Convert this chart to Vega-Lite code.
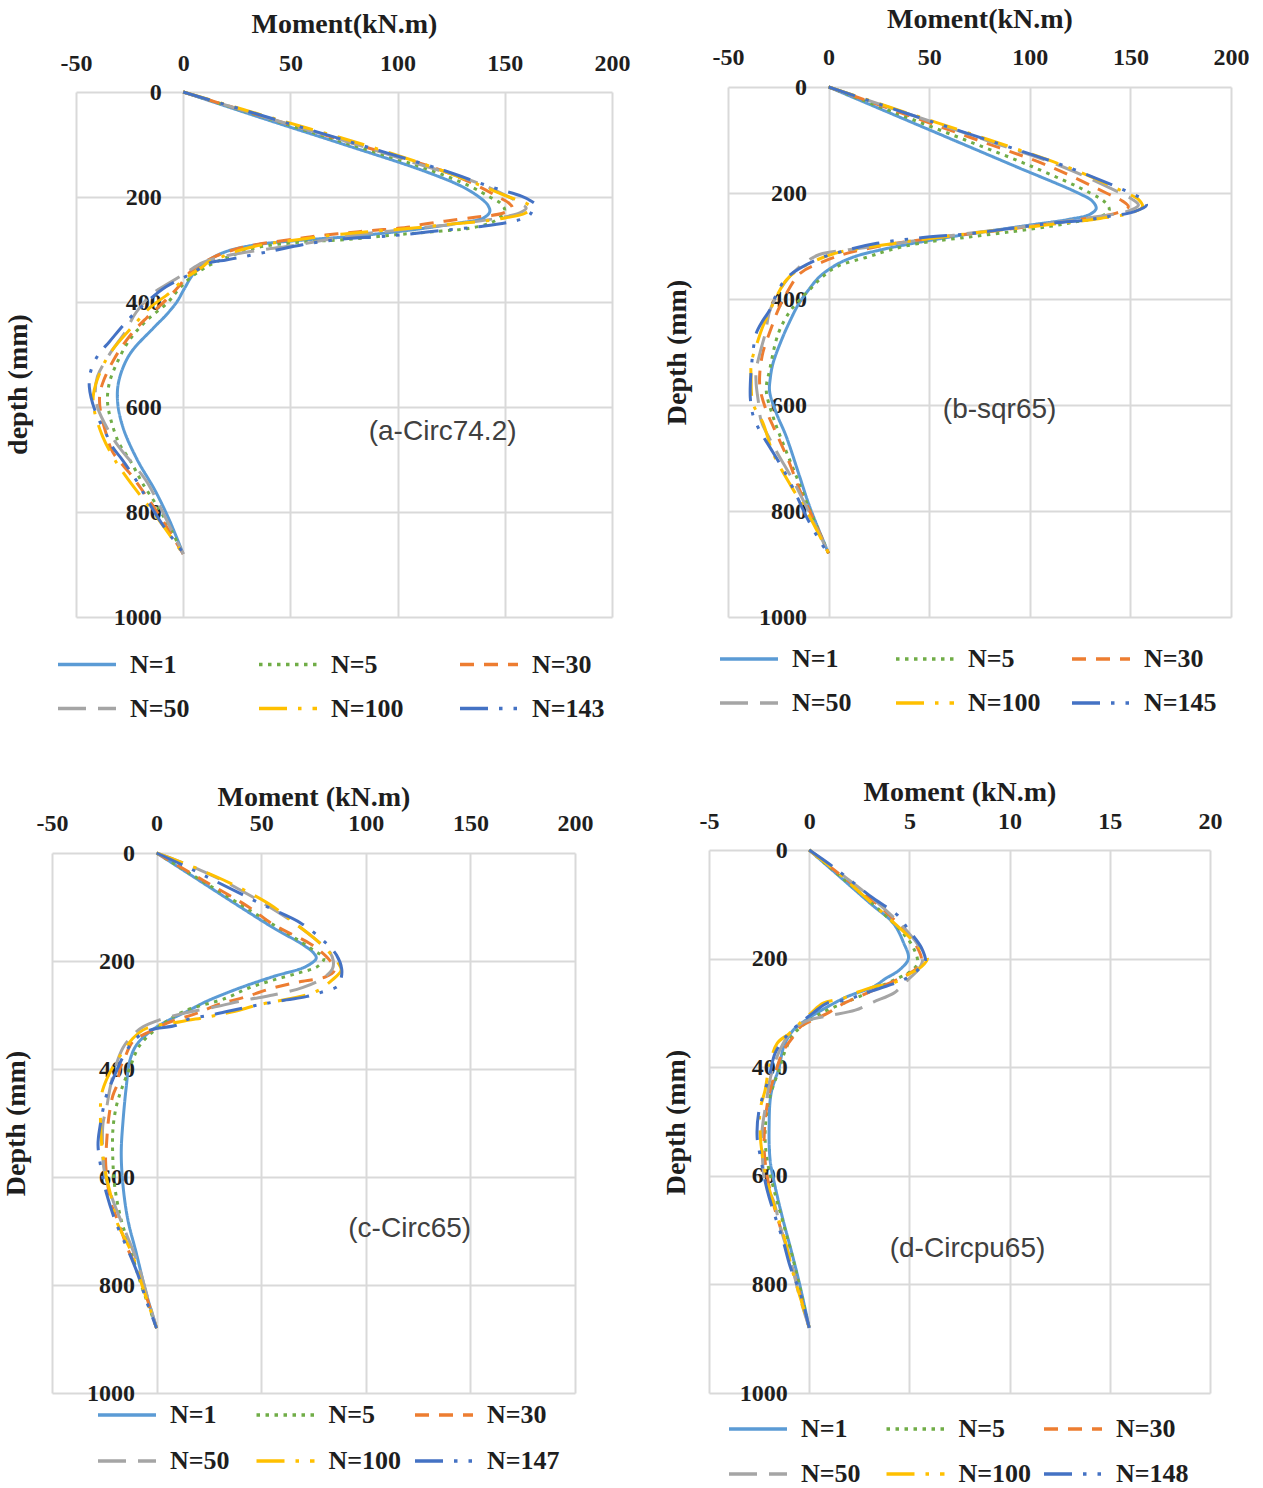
{
"$schema": "https://vega.github.io/schema/vega-lite/v6.json",
"background": "white",
"padding": {"left": 2, "top": 5, "right": 0, "bottom": 0},
"config": {
  "view": {"stroke": null},
  "axis": {"grid": true, "gridColor": "#d9d9d9", "gridWidth": 2, "domain": false, "ticks": false, "tickSize": 0,
    "labelFont": "Liberation Serif", "labelFontWeight": "bold", "labelFontSize": 24, "labelColor": "#1e1e1e",
    "labelFlush": false, "labelOverlap": false, "labelExpr": "'' + datum.value",
    "titleFont": "Liberation Serif", "titleFontWeight": "bold", "titleFontSize": 28, "titleColor": "#1e1e1e"},
  "legend": {"orient": "none", "direction": "horizontal", "columns": 3, "gridAlign": "all", "symbolType": "stroke",
    "symbolSize": 3364, "symbolOffset": 8, "symbolStrokeWidth": 3.5, "labelFont": "Liberation Serif", "labelFontWeight": "bold",
    "labelFontSize": 26, "labelColor": "#1e1e1e", "labelOffset": 12, "padding": 0, "labelLimit": 300}
},
"datasets": {
"a": [
{"s":"N=1","d":0,"m":0},{"s":"N=1","d":50,"m":37},{"s":"N=1","d":100,"m":75},{"s":"N=1","d":150,"m":112},{"s":"N=1","d":180,"m":130},{"s":"N=1","d":200,"m":138},{"s":"N=1","d":215,"m":142},{"s":"N=1","d":228,"m":143},{"s":"N=1","d":240,"m":140},{"s":"N=1","d":250,"m":128},{"s":"N=1","d":258,"m":115},{"s":"N=1","d":265,"m":102},{"s":"N=1","d":275,"m":79},{"s":"N=1","d":282,"m":56},{"s":"N=1","d":291,"m":34},{"s":"N=1","d":304,"m":20},{"s":"N=1","d":320,"m":12},{"s":"N=1","d":345,"m":5},{"s":"N=1","d":375,"m":0.5},{"s":"N=1","d":400,"m":-3},{"s":"N=1","d":425,"m":-8},{"s":"N=1","d":450,"m":-14},{"s":"N=1","d":500,"m":-25},{"s":"N=1","d":550,"m":-30},{"s":"N=1","d":590,"m":-30.6},{"s":"N=1","d":640,"m":-28},{"s":"N=1","d":700,"m":-21.5},{"s":"N=1","d":760,"m":-13},{"s":"N=1","d":815,"m":-6.5},{"s":"N=1","d":880,"m":0},
{"s":"N=5","d":0,"m":0},{"s":"N=5","d":50,"m":39},{"s":"N=5","d":100,"m":78},{"s":"N=5","d":150,"m":116},{"s":"N=5","d":180,"m":134},{"s":"N=5","d":200,"m":143},{"s":"N=5","d":212,"m":148},{"s":"N=5","d":225,"m":150},{"s":"N=5","d":238,"m":148},{"s":"N=5","d":250,"m":143},{"s":"N=5","d":260,"m":133},{"s":"N=5","d":266,"m":117},{"s":"N=5","d":272,"m":99},{"s":"N=5","d":281,"m":76},{"s":"N=5","d":286,"m":55},{"s":"N=5","d":295,"m":36},{"s":"N=5","d":314,"m":21},{"s":"N=5","d":335,"m":10},{"s":"N=5","d":355,"m":3},{"s":"N=5","d":375,"m":-2},{"s":"N=5","d":400,"m":-7},{"s":"N=5","d":435,"m":-17},{"s":"N=5","d":472,"m":-25},{"s":"N=5","d":517,"m":-31},{"s":"N=5","d":555,"m":-34.5},{"s":"N=5","d":590,"m":-35.3},{"s":"N=5","d":625,"m":-33.7},{"s":"N=5","d":670,"m":-29.8},{"s":"N=5","d":700,"m":-25},{"s":"N=5","d":745,"m":-19},{"s":"N=5","d":796,"m":-11},{"s":"N=5","d":828,"m":-6.5},{"s":"N=5","d":880,"m":0},
{"s":"N=30","d":0,"m":0},{"s":"N=30","d":50,"m":40},{"s":"N=30","d":100,"m":81},{"s":"N=30","d":150,"m":121},{"s":"N=30","d":180,"m":138},{"s":"N=30","d":200,"m":147},{"s":"N=30","d":212,"m":152},{"s":"N=30","d":221,"m":153.5},{"s":"N=30","d":231,"m":149},{"s":"N=30","d":238,"m":137},{"s":"N=30","d":246,"m":122},{"s":"N=30","d":252,"m":112},{"s":"N=30","d":257,"m":106},{"s":"N=30","d":266,"m":82},{"s":"N=30","d":270,"m":72},{"s":"N=30","d":276,"m":59},{"s":"N=30","d":280,"m":52},{"s":"N=30","d":290,"m":35},{"s":"N=30","d":300,"m":24},{"s":"N=30","d":315,"m":14},{"s":"N=30","d":340,"m":4},{"s":"N=30","d":370,"m":-2},{"s":"N=30","d":396,"m":-8},{"s":"N=30","d":430,"m":-17},{"s":"N=30","d":460,"m":-24},{"s":"N=30","d":507,"m":-32},{"s":"N=30","d":555,"m":-37.6},{"s":"N=30","d":580,"m":-39},{"s":"N=30","d":610,"m":-38.5},{"s":"N=30","d":650,"m":-36},{"s":"N=30","d":685,"m":-33},{"s":"N=30","d":733,"m":-23.6},{"s":"N=30","d":777,"m":-16},{"s":"N=30","d":820,"m":-9},{"s":"N=30","d":880,"m":0},
{"s":"N=50","d":0,"m":0},{"s":"N=50","d":50,"m":40},{"s":"N=50","d":100,"m":81},{"s":"N=50","d":130,"m":104},{"s":"N=50","d":174,"m":138},{"s":"N=50","d":200,"m":152},{"s":"N=50","d":212,"m":157},{"s":"N=50","d":221,"m":160},{"s":"N=50","d":230,"m":157},{"s":"N=50","d":240,"m":147},{"s":"N=50","d":250,"m":130},{"s":"N=50","d":258,"m":112},{"s":"N=50","d":265,"m":96},{"s":"N=50","d":271,"m":83},{"s":"N=50","d":282,"m":66},{"s":"N=50","d":292,"m":52},{"s":"N=50","d":300,"m":38},{"s":"N=50","d":308,"m":25},{"s":"N=50","d":315,"m":17},{"s":"N=50","d":325,"m":9},{"s":"N=50","d":345,"m":1},{"s":"N=50","d":365,"m":-7},{"s":"N=50","d":383,"m":-14},{"s":"N=50","d":420,"m":-22},{"s":"N=50","d":460,"m":-27.5},{"s":"N=50","d":482,"m":-31.4},{"s":"N=50","d":510,"m":-36},{"s":"N=50","d":542,"m":-40},{"s":"N=50","d":570,"m":-41},{"s":"N=50","d":600,"m":-40},{"s":"N=50","d":644,"m":-35},{"s":"N=50","d":676,"m":-30},{"s":"N=50","d":701,"m":-25},{"s":"N=50","d":739,"m":-17.5},{"s":"N=50","d":780,"m":-12},{"s":"N=50","d":830,"m":-6},{"s":"N=50","d":880,"m":0},
{"s":"N=100","d":0,"m":0},{"s":"N=100","d":50,"m":42},{"s":"N=100","d":100,"m":84},{"s":"N=100","d":150,"m":121},{"s":"N=100","d":180,"m":140},{"s":"N=100","d":200,"m":152},{"s":"N=100","d":212,"m":160},{"s":"N=100","d":220,"m":162.5},{"s":"N=100","d":231,"m":159.5},{"s":"N=100","d":240,"m":150},{"s":"N=100","d":247,"m":138},{"s":"N=100","d":252,"m":124},{"s":"N=100","d":258,"m":110},{"s":"N=100","d":266,"m":87},{"s":"N=100","d":272,"m":71},{"s":"N=100","d":280,"m":56},{"s":"N=100","d":291,"m":37},{"s":"N=100","d":303,"m":25},{"s":"N=100","d":314,"m":18},{"s":"N=100","d":323,"m":12},{"s":"N=100","d":333,"m":9},{"s":"N=100","d":358,"m":0},{"s":"N=100","d":383,"m":-6.5},{"s":"N=100","d":409,"m":-15},{"s":"N=100","d":444,"m":-23},{"s":"N=100","d":491,"m":-33},{"s":"N=100","d":523,"m":-37.6},{"s":"N=100","d":574,"m":-41.8},{"s":"N=100","d":606,"m":-41.5},{"s":"N=100","d":656,"m":-37.6},{"s":"N=100","d":688,"m":-33.7},{"s":"N=100","d":714,"m":-29.8},{"s":"N=100","d":758,"m":-22},{"s":"N=100","d":800,"m":-14},{"s":"N=100","d":840,"m":-7},{"s":"N=100","d":880,"m":0},
{"s":"N=143","d":0,"m":0},{"s":"N=143","d":50,"m":41},{"s":"N=143","d":100,"m":82},{"s":"N=143","d":150,"m":122},{"s":"N=143","d":180,"m":143},{"s":"N=143","d":199,"m":158},{"s":"N=143","d":207,"m":162},{"s":"N=143","d":215,"m":164.4},{"s":"N=143","d":225,"m":163},{"s":"N=143","d":237,"m":161},{"s":"N=143","d":247,"m":153},{"s":"N=143","d":256,"m":139},{"s":"N=143","d":264,"m":120},{"s":"N=143","d":272,"m":102},{"s":"N=143","d":276,"m":90},{"s":"N=143","d":279,"m":77},{"s":"N=143","d":285,"m":65},{"s":"N=143","d":291,"m":55.6},{"s":"N=143","d":304,"m":40},{"s":"N=143","d":314,"m":27.6},{"s":"N=143","d":320,"m":20},{"s":"N=143","d":326,"m":12},{"s":"N=143","d":345,"m":4.3},{"s":"N=143","d":371,"m":-8},{"s":"N=143","d":400,"m":-17},{"s":"N=143","d":431,"m":-25},{"s":"N=143","d":476,"m":-34.5},{"s":"N=143","d":500,"m":-39.5},{"s":"N=143","d":530,"m":-43},{"s":"N=143","d":561,"m":-43.8},{"s":"N=143","d":612,"m":-40.7},{"s":"N=143","d":647,"m":-36.4},{"s":"N=143","d":676,"m":-33},{"s":"N=143","d":701,"m":-28.3},{"s":"N=143","d":749,"m":-20.5},{"s":"N=143","d":777,"m":-16.8},{"s":"N=143","d":834,"m":-8},{"s":"N=143","d":866,"m":-2},{"s":"N=143","d":880,"m":0}
],
"b": [
{"s":"N=1","d":0,"m":0},{"s":"N=1","d":50,"m":31},{"s":"N=1","d":100,"m":62},{"s":"N=1","d":150,"m":93},{"s":"N=1","d":200,"m":124},{"s":"N=1","d":215,"m":131},{"s":"N=1","d":229,"m":133},{"s":"N=1","d":240,"m":130},{"s":"N=1","d":250,"m":119},{"s":"N=1","d":260,"m":101},{"s":"N=1","d":270,"m":83},{"s":"N=1","d":282,"m":62},{"s":"N=1","d":295,"m":42},{"s":"N=1","d":308,"m":25},{"s":"N=1","d":320,"m":13},{"s":"N=1","d":335,"m":4},{"s":"N=1","d":358,"m":-4.5},{"s":"N=1","d":383,"m":-10},{"s":"N=1","d":410,"m":-15},{"s":"N=1","d":440,"m":-19},{"s":"N=1","d":471,"m":-22.7},{"s":"N=1","d":521,"m":-27.6},{"s":"N=1","d":550,"m":-29},{"s":"N=1","d":575,"m":-29.3},{"s":"N=1","d":615,"m":-26},{"s":"N=1","d":660,"m":-21},{"s":"N=1","d":735,"m":-14.4},{"s":"N=1","d":792,"m":-9.4},{"s":"N=1","d":880,"m":0},
{"s":"N=5","d":0,"m":0},{"s":"N=5","d":50,"m":34},{"s":"N=5","d":100,"m":68},{"s":"N=5","d":150,"m":101},{"s":"N=5","d":200,"m":130},{"s":"N=5","d":218,"m":137.5},{"s":"N=5","d":232,"m":139.5},{"s":"N=5","d":245,"m":135},{"s":"N=5","d":255,"m":122},{"s":"N=5","d":263,"m":110},{"s":"N=5","d":272,"m":93},{"s":"N=5","d":283,"m":70},{"s":"N=5","d":295,"m":45},{"s":"N=5","d":308,"m":30},{"s":"N=5","d":320,"m":20},{"s":"N=5","d":339,"m":4},{"s":"N=5","d":358,"m":-3},{"s":"N=5","d":377,"m":-8},{"s":"N=5","d":400,"m":-14},{"s":"N=5","d":425,"m":-19.5},{"s":"N=5","d":465,"m":-25},{"s":"N=5","d":534,"m":-29.3},{"s":"N=5","d":572,"m":-31},{"s":"N=5","d":622,"m":-27.6},{"s":"N=5","d":672,"m":-22.7},{"s":"N=5","d":735,"m":-16},{"s":"N=5","d":798,"m":-9.4},{"s":"N=5","d":880,"m":0},
{"s":"N=30","d":0,"m":0},{"s":"N=30","d":50,"m":37},{"s":"N=30","d":100,"m":74},{"s":"N=30","d":150,"m":110},{"s":"N=30","d":200,"m":138},{"s":"N=30","d":215,"m":146},{"s":"N=30","d":226,"m":149},{"s":"N=30","d":238,"m":143},{"s":"N=30","d":248,"m":128},{"s":"N=30","d":258,"m":110},{"s":"N=30","d":268,"m":90},{"s":"N=30","d":278,"m":68},{"s":"N=30","d":288,"m":46},{"s":"N=30","d":300,"m":26},{"s":"N=30","d":314,"m":9},{"s":"N=30","d":330,"m":-3},{"s":"N=30","d":351,"m":-14},{"s":"N=30","d":383,"m":-20},{"s":"N=30","d":420,"m":-25},{"s":"N=30","d":460,"m":-29},{"s":"N=30","d":500,"m":-32.6},{"s":"N=30","d":540,"m":-34.2},{"s":"N=30","d":570,"m":-34},{"s":"N=30","d":610,"m":-31},{"s":"N=30","d":640,"m":-27.6},{"s":"N=30","d":670,"m":-24},{"s":"N=30","d":710,"m":-19.4},{"s":"N=30","d":760,"m":-14.4},{"s":"N=30","d":800,"m":-9.4},{"s":"N=30","d":880,"m":0},
{"s":"N=50","d":0,"m":0},{"s":"N=50","d":50,"m":39},{"s":"N=50","d":100,"m":78},{"s":"N=50","d":150,"m":116},{"s":"N=50","d":200,"m":145},{"s":"N=50","d":212,"m":151},{"s":"N=50","d":223,"m":154},{"s":"N=50","d":235,"m":148},{"s":"N=50","d":245,"m":133},{"s":"N=50","d":255,"m":114},{"s":"N=50","d":265,"m":94},{"s":"N=50","d":275,"m":72},{"s":"N=50","d":285,"m":52},{"s":"N=50","d":297,"m":30},{"s":"N=50","d":307,"m":10},{"s":"N=50","d":316,"m":-4.5},{"s":"N=50","d":339,"m":-14.4},{"s":"N=50","d":370,"m":-22},{"s":"N=50","d":420,"m":-29},{"s":"N=50","d":465,"m":-31.5},{"s":"N=50","d":500,"m":-34},{"s":"N=50","d":534,"m":-36},{"s":"N=50","d":560,"m":-36},{"s":"N=50","d":591,"m":-35},{"s":"N=50","d":630,"m":-33.5},{"s":"N=50","d":666,"m":-29},{"s":"N=50","d":697,"m":-24.5},{"s":"N=50","d":740,"m":-18},{"s":"N=50","d":800,"m":-10},{"s":"N=50","d":880,"m":0},
{"s":"N=100","d":0,"m":0},{"s":"N=100","d":50,"m":40},{"s":"N=100","d":100,"m":80},{"s":"N=100","d":150,"m":118},{"s":"N=100","d":200,"m":148},{"s":"N=100","d":212,"m":154},{"s":"N=100","d":226,"m":156},{"s":"N=100","d":238,"m":150},{"s":"N=100","d":248,"m":135},{"s":"N=100","d":256,"m":118},{"s":"N=100","d":264,"m":100},{"s":"N=100","d":272,"m":80},{"s":"N=100","d":282,"m":58},{"s":"N=100","d":292,"m":38},{"s":"N=100","d":302,"m":20},{"s":"N=100","d":312,"m":5},{"s":"N=100","d":325,"m":-5},{"s":"N=100","d":345,"m":-15},{"s":"N=100","d":364,"m":-21},{"s":"N=100","d":396,"m":-26},{"s":"N=100","d":421,"m":-29},{"s":"N=100","d":450,"m":-32.5},{"s":"N=100","d":477,"m":-35},{"s":"N=100","d":521,"m":-38.4},{"s":"N=100","d":550,"m":-38.5},{"s":"N=100","d":597,"m":-37.6},{"s":"N=100","d":634,"m":-32.6},{"s":"N=100","d":691,"m":-27.6},{"s":"N=100","d":754,"m":-18.5},{"s":"N=100","d":800,"m":-11},{"s":"N=100","d":880,"m":0},
{"s":"N=145","d":0,"m":0},{"s":"N=145","d":50,"m":39},{"s":"N=145","d":100,"m":79},{"s":"N=145","d":150,"m":118},{"s":"N=145","d":200,"m":150},{"s":"N=145","d":212,"m":156},{"s":"N=145","d":223,"m":158},{"s":"N=145","d":235,"m":152},{"s":"N=145","d":245,"m":138},{"s":"N=145","d":251,"m":128},{"s":"N=145","d":256,"m":113},{"s":"N=145","d":267,"m":90},{"s":"N=145","d":276,"m":72},{"s":"N=145","d":284,"m":47},{"s":"N=145","d":295,"m":24},{"s":"N=145","d":308,"m":9},{"s":"N=145","d":326,"m":-6},{"s":"N=145","d":361,"m":-21},{"s":"N=145","d":400,"m":-27},{"s":"N=145","d":421,"m":-29.3},{"s":"N=145","d":440,"m":-32.6},{"s":"N=145","d":465,"m":-36},{"s":"N=145","d":500,"m":-37.6},{"s":"N=145","d":531,"m":-38.4},{"s":"N=145","d":560,"m":-38.9},{"s":"N=145","d":587,"m":-38.9},{"s":"N=145","d":619,"m":-37.6},{"s":"N=145","d":650,"m":-34},{"s":"N=145","d":679,"m":-29.3},{"s":"N=145","d":726,"m":-21.9},{"s":"N=145","d":770,"m":-16},{"s":"N=145","d":811,"m":-11},{"s":"N=145","d":861,"m":-3.6},{"s":"N=145","d":880,"m":0}
],
"c": [
{"s":"N=1","d":0,"m":0},{"s":"N=1","d":50,"m":20},{"s":"N=1","d":100,"m":40},{"s":"N=1","d":139,"m":56},{"s":"N=1","d":170,"m":70},{"s":"N=1","d":185,"m":75},{"s":"N=1","d":195,"m":76.3},{"s":"N=1","d":210,"m":71.5},{"s":"N=1","d":229,"m":55.6},{"s":"N=1","d":250,"m":39.7},{"s":"N=1","d":275,"m":23.7},{"s":"N=1","d":294,"m":14.2},{"s":"N=1","d":312,"m":4.6},{"s":"N=1","d":331,"m":-3.2},{"s":"N=1","d":356,"m":-9.7},{"s":"N=1","d":386,"m":-12.9},{"s":"N=1","d":433,"m":-14.5},{"s":"N=1","d":494,"m":-16},{"s":"N=1","d":556,"m":-16.9},{"s":"N=1","d":618,"m":-16},{"s":"N=1","d":680,"m":-13.7},{"s":"N=1","d":741,"m":-9.7},{"s":"N=1","d":815,"m":-5},{"s":"N=1","d":880,"m":0},
{"s":"N=5","d":0,"m":0},{"s":"N=5","d":50,"m":21},{"s":"N=5","d":100,"m":42},{"s":"N=5","d":150,"m":63},{"s":"N=5","d":180,"m":75},{"s":"N=5","d":195,"m":80},{"s":"N=5","d":210,"m":77},{"s":"N=5","d":222,"m":68},{"s":"N=5","d":235,"m":56},{"s":"N=5","d":250,"m":44},{"s":"N=5","d":269,"m":33},{"s":"N=5","d":294,"m":12.6},{"s":"N=5","d":321,"m":1.4},{"s":"N=5","d":356,"m":-8},{"s":"N=5","d":395,"m":-12.5},{"s":"N=5","d":439,"m":-16.9},{"s":"N=5","d":470,"m":-19.3},{"s":"N=5","d":513,"m":-20.9},{"s":"N=5","d":569,"m":-20.9},{"s":"N=5","d":618,"m":-20},{"s":"N=5","d":680,"m":-16.9},{"s":"N=5","d":729,"m":-12.9},{"s":"N=5","d":791,"m":-8.1},{"s":"N=5","d":880,"m":0},
{"s":"N=30","d":0,"m":0},{"s":"N=30","d":50,"m":22},{"s":"N=30","d":100,"m":44},{"s":"N=30","d":133,"m":56},{"s":"N=30","d":167,"m":73},{"s":"N=30","d":183,"m":78.7},{"s":"N=30","d":200,"m":83},{"s":"N=30","d":217,"m":85},{"s":"N=30","d":229,"m":81},{"s":"N=30","d":238,"m":69},{"s":"N=30","d":250,"m":55.6},{"s":"N=30","d":266,"m":42.9},{"s":"N=30","d":280,"m":30},{"s":"N=30","d":297,"m":19},{"s":"N=30","d":315,"m":5},{"s":"N=30","d":330,"m":-3},{"s":"N=30","d":349,"m":-11.3},{"s":"N=30","d":380,"m":-15.3},{"s":"N=30","d":402,"m":-17.7},{"s":"N=30","d":425,"m":-18.5},{"s":"N=30","d":449,"m":-20.9},{"s":"N=30","d":480,"m":-22.5},{"s":"N=30","d":505,"m":-23.3},{"s":"N=30","d":543,"m":-24},{"s":"N=30","d":569,"m":-24.4},{"s":"N=30","d":610,"m":-23.5},{"s":"N=30","d":650,"m":-21.7},{"s":"N=30","d":674,"m":-19.3},{"s":"N=30","d":741,"m":-12.9},{"s":"N=30","d":766,"m":-9.7},{"s":"N=30","d":820,"m":-5},{"s":"N=30","d":880,"m":0},
{"s":"N=50","d":0,"m":0},{"s":"N=50","d":25,"m":17},{"s":"N=50","d":50,"m":31},{"s":"N=50","d":75,"m":43},{"s":"N=50","d":100,"m":54},{"s":"N=50","d":130,"m":66},{"s":"N=50","d":160,"m":76},{"s":"N=50","d":185,"m":83},{"s":"N=50","d":200,"m":84.5},{"s":"N=50","d":215,"m":84},{"s":"N=50","d":232,"m":79.5},{"s":"N=50","d":249,"m":70},{"s":"N=50","d":263,"m":55.6},{"s":"N=50","d":272,"m":43},{"s":"N=50","d":285,"m":28},{"s":"N=50","d":297,"m":12.6},{"s":"N=50","d":309,"m":1.4},{"s":"N=50","d":322,"m":-6.5},{"s":"N=50","d":337,"m":-11.3},{"s":"N=50","d":360,"m":-16},{"s":"N=50","d":400,"m":-20},{"s":"N=50","d":440,"m":-22.5},{"s":"N=50","d":474,"m":-24},{"s":"N=50","d":500,"m":-25.6},{"s":"N=50","d":569,"m":-25.6},{"s":"N=50","d":593,"m":-24.8},{"s":"N=50","d":643,"m":-20.9},{"s":"N=50","d":705,"m":-14.5},{"s":"N=50","d":760,"m":-9},{"s":"N=50","d":820,"m":-4.5},{"s":"N=50","d":880,"m":0},
{"s":"N=100","d":0,"m":0},{"s":"N=100","d":25,"m":17},{"s":"N=100","d":50,"m":32},{"s":"N=100","d":75,"m":45},{"s":"N=100","d":100,"m":56},{"s":"N=100","d":127,"m":65},{"s":"N=100","d":160,"m":76},{"s":"N=100","d":190,"m":84},{"s":"N=100","d":205,"m":87},{"s":"N=100","d":217,"m":88.2},{"s":"N=100","d":235,"m":84},{"s":"N=100","d":257,"m":76},{"s":"N=100","d":270,"m":63.5},{"s":"N=100","d":280,"m":50},{"s":"N=100","d":294,"m":36.4},{"s":"N=100","d":303,"m":25.3},{"s":"N=100","d":312,"m":12},{"s":"N=100","d":325,"m":-5},{"s":"N=100","d":343,"m":-11.3},{"s":"N=100","d":368,"m":-16},{"s":"N=100","d":386,"m":-19.3},{"s":"N=100","d":420,"m":-24},{"s":"N=100","d":449,"m":-26.4},{"s":"N=100","d":500,"m":-26.8},{"s":"N=100","d":550,"m":-26},{"s":"N=100","d":600,"m":-24},{"s":"N=100","d":640,"m":-21.5},{"s":"N=100","d":680,"m":-19.3},{"s":"N=100","d":740,"m":-12},{"s":"N=100","d":800,"m":-7},{"s":"N=100","d":880,"m":0},
{"s":"N=147","d":0,"m":0},{"s":"N=147","d":25,"m":14},{"s":"N=147","d":50,"m":27},{"s":"N=147","d":100,"m":53},{"s":"N=147","d":130,"m":69},{"s":"N=147","d":167,"m":81},{"s":"N=147","d":189,"m":86},{"s":"N=147","d":215,"m":88.5},{"s":"N=147","d":235,"m":88},{"s":"N=147","d":247,"m":86.5},{"s":"N=147","d":257,"m":79.5},{"s":"N=147","d":266,"m":71.5},{"s":"N=147","d":272,"m":62},{"s":"N=147","d":281,"m":49},{"s":"N=147","d":294,"m":33},{"s":"N=147","d":300,"m":26},{"s":"N=147","d":308,"m":15},{"s":"N=147","d":319,"m":9.4},{"s":"N=147","d":328,"m":-3.2},{"s":"N=147","d":343,"m":-9.7},{"s":"N=147","d":370,"m":-15},{"s":"N=147","d":420,"m":-21},{"s":"N=147","d":449,"m":-24},{"s":"N=147","d":510,"m":-27.2},{"s":"N=147","d":541,"m":-28},{"s":"N=147","d":587,"m":-26.4},{"s":"N=147","d":630,"m":-24},{"s":"N=147","d":686,"m":-19.3},{"s":"N=147","d":735,"m":-13.7},{"s":"N=147","d":780,"m":-9},{"s":"N=147","d":828,"m":-5},{"s":"N=147","d":880,"m":0}
],
"d": [
{"s":"N=1","d":0,"m":0},{"s":"N=1","d":50,"m":1.55},{"s":"N=1","d":100,"m":3.1},{"s":"N=1","d":135,"m":4.2},{"s":"N=1","d":170,"m":4.7},{"s":"N=1","d":200,"m":4.95},{"s":"N=1","d":221,"m":4.5},{"s":"N=1","d":237,"m":3.8},{"s":"N=1","d":252,"m":3.2},{"s":"N=1","d":270,"m":1.9},{"s":"N=1","d":289,"m":0.9},{"s":"N=1","d":308,"m":0.05},{"s":"N=1","d":332,"m":-0.8},{"s":"N=1","d":360,"m":-1.25},{"s":"N=1","d":400,"m":-1.5},{"s":"N=1","d":448,"m":-1.9},{"s":"N=1","d":510,"m":-2},{"s":"N=1","d":571,"m":-1.95},{"s":"N=1","d":620,"m":-1.7},{"s":"N=1","d":682,"m":-1.3},{"s":"N=1","d":743,"m":-0.86},{"s":"N=1","d":804,"m":-0.45},{"s":"N=1","d":880,"m":0},
{"s":"N=5","d":0,"m":0},{"s":"N=5","d":50,"m":1.6},{"s":"N=5","d":100,"m":3.2},{"s":"N=5","d":150,"m":4.6},{"s":"N=5","d":180,"m":5.2},{"s":"N=5","d":209,"m":5.4},{"s":"N=5","d":225,"m":5},{"s":"N=5","d":235,"m":4.5},{"s":"N=5","d":252,"m":3.5},{"s":"N=5","d":270,"m":2.5},{"s":"N=5","d":295,"m":0.9},{"s":"N=5","d":313,"m":0.05},{"s":"N=5","d":340,"m":-0.8},{"s":"N=5","d":370,"m":-1.2},{"s":"N=5","d":399,"m":-1.45},{"s":"N=5","d":460,"m":-2},{"s":"N=5","d":522,"m":-2.2},{"s":"N=5","d":571,"m":-2.1},{"s":"N=5","d":620,"m":-1.8},{"s":"N=5","d":680,"m":-1.35},{"s":"N=5","d":740,"m":-0.9},{"s":"N=5","d":800,"m":-0.5},{"s":"N=5","d":880,"m":0},
{"s":"N=30","d":0,"m":0},{"s":"N=30","d":50,"m":1.7},{"s":"N=30","d":100,"m":3.4},{"s":"N=30","d":150,"m":4.8},{"s":"N=30","d":180,"m":5.4},{"s":"N=30","d":203,"m":5.6},{"s":"N=30","d":220,"m":5.3},{"s":"N=30","d":235,"m":4.6},{"s":"N=30","d":250,"m":3.7},{"s":"N=30","d":265,"m":2.8},{"s":"N=30","d":285,"m":1.6},{"s":"N=30","d":301,"m":0.9},{"s":"N=30","d":313,"m":0.2},{"s":"N=30","d":326,"m":-0.45},{"s":"N=30","d":344,"m":-0.8},{"s":"N=30","d":370,"m":-1.3},{"s":"N=30","d":400,"m":-1.6},{"s":"N=30","d":450,"m":-2},{"s":"N=30","d":500,"m":-2.2},{"s":"N=30","d":550,"m":-2.25},{"s":"N=30","d":600,"m":-2.1},{"s":"N=30","d":650,"m":-1.8},{"s":"N=30","d":700,"m":-1.4},{"s":"N=30","d":750,"m":-1},{"s":"N=30","d":800,"m":-0.6},{"s":"N=30","d":880,"m":0},
{"s":"N=50","d":0,"m":0},{"s":"N=50","d":50,"m":1.8},{"s":"N=50","d":100,"m":3.5},{"s":"N=50","d":150,"m":4.9},{"s":"N=50","d":180,"m":5.5},{"s":"N=50","d":205,"m":5.65},{"s":"N=50","d":222,"m":5.4},{"s":"N=50","d":240,"m":4.9},{"s":"N=50","d":255,"m":4.5},{"s":"N=50","d":264,"m":4.2},{"s":"N=50","d":280,"m":3.2},{"s":"N=50","d":295,"m":2.3},{"s":"N=50","d":305,"m":1},{"s":"N=50","d":313,"m":0},{"s":"N=50","d":325,"m":-0.6},{"s":"N=50","d":350,"m":-1.2},{"s":"N=50","d":390,"m":-1.7},{"s":"N=50","d":430,"m":-2},{"s":"N=50","d":455,"m":-2.1},{"s":"N=50","d":516,"m":-2.35},{"s":"N=50","d":547,"m":-2.35},{"s":"N=50","d":613,"m":-2.2},{"s":"N=50","d":644,"m":-1.8},{"s":"N=50","d":700,"m":-1.4},{"s":"N=50","d":760,"m":-0.9},{"s":"N=50","d":820,"m":-0.5},{"s":"N=50","d":880,"m":0},
{"s":"N=100","d":0,"m":0},{"s":"N=100","d":50,"m":1.7},{"s":"N=100","d":74,"m":2.4},{"s":"N=100","d":110,"m":3.5},{"s":"N=100","d":150,"m":4.7},{"s":"N=100","d":180,"m":5.5},{"s":"N=100","d":200,"m":5.9},{"s":"N=100","d":215,"m":5.6},{"s":"N=100","d":230,"m":4.9},{"s":"N=100","d":245,"m":4.2},{"s":"N=100","d":252,"m":3.2},{"s":"N=100","d":262,"m":2.4},{"s":"N=100","d":273,"m":1.7},{"s":"N=100","d":282,"m":0.7},{"s":"N=100","d":300,"m":0.1},{"s":"N=100","d":320,"m":-0.5},{"s":"N=100","d":338,"m":-1},{"s":"N=100","d":356,"m":-1.6},{"s":"N=100","d":400,"m":-2},{"s":"N=100","d":442,"m":-2.2},{"s":"N=100","d":479,"m":-2.45},{"s":"N=100","d":520,"m":-2.45},{"s":"N=100","d":560,"m":-2.35},{"s":"N=100","d":610,"m":-2.1},{"s":"N=100","d":660,"m":-1.7},{"s":"N=100","d":720,"m":-1.2},{"s":"N=100","d":780,"m":-0.8},{"s":"N=100","d":830,"m":-0.4},{"s":"N=100","d":880,"m":0},
{"s":"N=148","d":0,"m":0},{"s":"N=148","d":31,"m":1.2},{"s":"N=148","d":89,"m":3.2},{"s":"N=148","d":120,"m":4.4},{"s":"N=148","d":147,"m":4.95},{"s":"N=148","d":180,"m":5.6},{"s":"N=148","d":206,"m":5.8},{"s":"N=148","d":215,"m":5.6},{"s":"N=148","d":239,"m":4.7},{"s":"N=148","d":255,"m":3.5},{"s":"N=148","d":266,"m":2.6},{"s":"N=148","d":276,"m":1.9},{"s":"N=148","d":282,"m":0.9},{"s":"N=148","d":300,"m":0.2},{"s":"N=148","d":320,"m":-0.5},{"s":"N=148","d":341,"m":-1.1},{"s":"N=148","d":374,"m":-1.7},{"s":"N=148","d":418,"m":-2},{"s":"N=148","d":479,"m":-2.5},{"s":"N=148","d":528,"m":-2.6},{"s":"N=148","d":562,"m":-2.45},{"s":"N=148","d":626,"m":-2.1},{"s":"N=148","d":675,"m":-1.7},{"s":"N=148","d":720,"m":-1.3},{"s":"N=148","d":767,"m":-0.95},{"s":"N=148","d":816,"m":-0.45},{"s":"N=148","d":880,"m":0}
]
},
"spacing": 56,
"resolve": {"scale": {"color": "independent", "strokeDash": "independent"}},
"vconcat": [
{
"spacing": 33,
"resolve": {"scale": {"color": "independent", "strokeDash": "independent"}},
"hconcat": [
{
"width": 560, "height": 530,
"layer": [
{"data": {"name": "a"},
 "mark": {"type": "line", "strokeWidth": 3, "interpolate": "catmull-rom"},
 "encoding": {
  "x": {"field": "m", "type": "quantitative", "title": "Moment(kN.m)", "scale": {"domain": [-50, 200], "range": [24, 560], "nice": false, "zero": false},
        "axis": {"orient": "top", "values": [-50, 0, 50, 100, 150, 200], "labelPadding": 12, "titlePadding": 13}},
  "y": {"field": "d", "type": "quantitative", "title": "depth (mm)", "scale": {"domain": [0, 1000], "range": [5, 530], "nice": false},
        "axis": {"orient": "left", "values": [0, 200, 400, 600, 800, 1000], "offset": -131.2, "labelPadding": 22, "titleX": -151, "titleY": 297}},
  "color": {"field": "s", "type": "nominal",
            "scale": {"domain": ["N=1", "N=5", "N=30", "N=50", "N=100", "N=143"], "range": ["#5B9BD5", "#70AD47", "#ED7D31", "#A5A5A5", "#FFC000", "#4472C4"]},
            "legend": {"title": null, "legendX": -4, "legendY": 546.5, "columnPadding": 46, "rowPadding": 0}},
  "strokeDash": {"field": "s", "type": "nominal",
            "scale": {"domain": ["N=1", "N=5", "N=30", "N=50", "N=100", "N=143"], "range": [[1, 0], [3.5, 5.5], [14, 10], [28, 12], [28, 11, 3.5, 11], [28, 11, 3.5, 11, 3.5, 11]]},
            "legend": {"title": null, "legendX": -4, "legendY": 546.5, "columnPadding": 46, "rowPadding": 0}},
  "order": {"field": "d", "type": "quantitative"}
 }},
{"data": {"values": [{"t": "(a-Circ74.2)", "m": 121, "d": 648}]},
 "mark": {"type": "text", "font": "Liberation Sans", "fontSize": 28, "color": "#404040"},
 "encoding": {"x": {"field": "m", "type": "quantitative", "title": "Moment(kN.m)"}, "y": {"field": "d", "type": "quantitative", "title": "depth (mm)"}, "text": {"field": "t"}}}
]
},
{
"width": 503, "height": 530,
"layer": [
{"data": {"name": "b"},
 "mark": {"type": "line", "strokeWidth": 3, "interpolate": "catmull-rom"},
 "encoding": {
  "x": {"field": "m", "type": "quantitative", "title": "Moment(kN.m)", "scale": {"domain": [-50, 200], "nice": false, "zero": false},
        "axis": {"orient": "top", "values": [-50, 0, 50, 100, 150, 200], "labelPadding": 18, "titlePadding": 12}},
  "y": {"field": "d", "type": "quantitative", "title": "Depth (mm)", "scale": {"domain": [0, 1000], "reverse": true, "nice": false},
        "axis": {"orient": "left", "values": [0, 200, 400, 600, 800, 1000], "offset": -100.6, "labelPadding": 22, "titleX": -137, "titleY": 265}},
  "color": {"field": "s", "type": "nominal",
            "scale": {"domain": ["N=1", "N=5", "N=30", "N=50", "N=100", "N=145"], "range": ["#5B9BD5", "#70AD47", "#ED7D31", "#A5A5A5", "#FFC000", "#4472C4"]},
            "legend": {"title": null, "legendX": -18, "legendY": 541, "columnPadding": 21, "rowPadding": 0}},
  "strokeDash": {"field": "s", "type": "nominal",
            "scale": {"domain": ["N=1", "N=5", "N=30", "N=50", "N=100", "N=145"], "range": [[1, 0], [3.5, 5.5], [14, 10], [28, 12], [28, 11, 3.5, 11], [28, 11, 3.5, 11, 3.5, 11]]},
            "legend": {"title": null, "legendX": -18, "legendY": 541, "columnPadding": 21, "rowPadding": 0}},
  "order": {"field": "d", "type": "quantitative"}
 }},
{"data": {"values": [{"t": "(b-sqr65)", "m": 85, "d": 609}]},
 "mark": {"type": "text", "font": "Liberation Sans", "fontSize": 28, "color": "#404040"},
 "encoding": {"x": {"field": "m", "type": "quantitative", "title": "Moment(kN.m)"}, "y": {"field": "d", "type": "quantitative", "title": "Depth (mm)"}, "text": {"field": "t"}}}
]
}
]
},
{
"spacing": 69,
"resolve": {"scale": {"color": "independent", "strokeDash": "independent"}},
"hconcat": [
{
"width": 523, "height": 543,
"layer": [
{"data": {"name": "c"},
 "mark": {"type": "line", "strokeWidth": 3, "interpolate": "catmull-rom"},
 "encoding": {
  "x": {"field": "m", "type": "quantitative", "title": "Moment (kN.m)", "scale": {"domain": [-50, 200], "nice": false, "zero": false},
        "axis": {"orient": "top", "values": [-50, 0, 50, 100, 150, 200], "labelPadding": 15, "titlePadding": 0}},
  "y": {"field": "d", "type": "quantitative", "title": "Depth (mm)", "scale": {"domain": [0, 1000], "range": [3, 543], "nice": false},
        "axis": {"orient": "left", "values": [0, 200, 400, 600, 800, 1000], "offset": -104.6, "labelPadding": 22, "titleX": -126.6, "titleY": 273}},
  "color": {"field": "s", "type": "nominal",
            "scale": {"domain": ["N=1", "N=5", "N=30", "N=50", "N=100", "N=147"], "range": ["#5B9BD5", "#70AD47", "#ED7D31", "#A5A5A5", "#FFC000", "#4472C4"]},
            "legend": {"title": null, "legendX": 36, "legendY": 534, "columnPadding": 3.5, "rowPadding": 2}},
  "strokeDash": {"field": "s", "type": "nominal",
            "scale": {"domain": ["N=1", "N=5", "N=30", "N=50", "N=100", "N=147"], "range": [[1, 0], [3.5, 5.5], [14, 10], [28, 12], [28, 11, 3.5, 11], [28, 11, 3.5, 11, 3.5, 11]]},
            "legend": {"title": null, "legendX": 36, "legendY": 534, "columnPadding": 3.5, "rowPadding": 2}},
  "order": {"field": "d", "type": "quantitative"}
 }},
{"data": {"values": [{"t": "(c-Circ65)", "m": 121, "d": 696}]},
 "mark": {"type": "text", "font": "Liberation Sans", "fontSize": 28, "color": "#404040"},
 "encoding": {"x": {"field": "m", "type": "quantitative", "title": "Moment (kN.m)"}, "y": {"field": "d", "type": "quantitative", "title": "Depth (mm)"}, "text": {"field": "t"}}}
]
},
{
"width": 501, "height": 543,
"layer": [
{"data": {"name": "d"},
 "mark": {"type": "line", "strokeWidth": 3, "interpolate": "catmull-rom"},
 "encoding": {
  "x": {"field": "m", "type": "quantitative", "title": "Moment (kN.m)", "scale": {"domain": [-5, 20], "nice": false, "zero": false},
        "axis": {"orient": "top", "values": [-5, 0, 5, 10, 15, 20], "labelPadding": 17, "titlePadding": 3}},
  "y": {"field": "d", "type": "quantitative", "title": "Depth (mm)", "scale": {"domain": [0, 1000], "reverse": true, "nice": false},
        "axis": {"orient": "left", "values": [0, 200, 400, 600, 800, 1000], "offset": -100.2, "labelPadding": 22, "titleX": -119, "titleY": 272}},
  "color": {"field": "s", "type": "nominal",
            "scale": {"domain": ["N=1", "N=5", "N=30", "N=50", "N=100", "N=148"], "range": ["#5B9BD5", "#70AD47", "#ED7D31", "#A5A5A5", "#FFC000", "#4472C4"]},
            "legend": {"title": null, "legendX": 10, "legendY": 548, "columnPadding": 2.5, "rowPadding": 1}},
  "strokeDash": {"field": "s", "type": "nominal",
            "scale": {"domain": ["N=1", "N=5", "N=30", "N=50", "N=100", "N=148"], "range": [[1, 0], [3.5, 5.5], [14, 10], [28, 12], [28, 11, 3.5, 11], [28, 11, 3.5, 11, 3.5, 11]]},
            "legend": {"title": null, "legendX": 10, "legendY": 548, "columnPadding": 2.5, "rowPadding": 1}},
  "order": {"field": "d", "type": "quantitative"}
 }},
{"data": {"values": [{"t": "(d-Circpu65)", "m": 7.9, "d": 735}]},
 "mark": {"type": "text", "font": "Liberation Sans", "fontSize": 28, "color": "#404040"},
 "encoding": {"x": {"field": "m", "type": "quantitative", "title": "Moment (kN.m)"}, "y": {"field": "d", "type": "quantitative", "title": "Depth (mm)"}, "text": {"field": "t"}}}
]
}
]
}
]
}
